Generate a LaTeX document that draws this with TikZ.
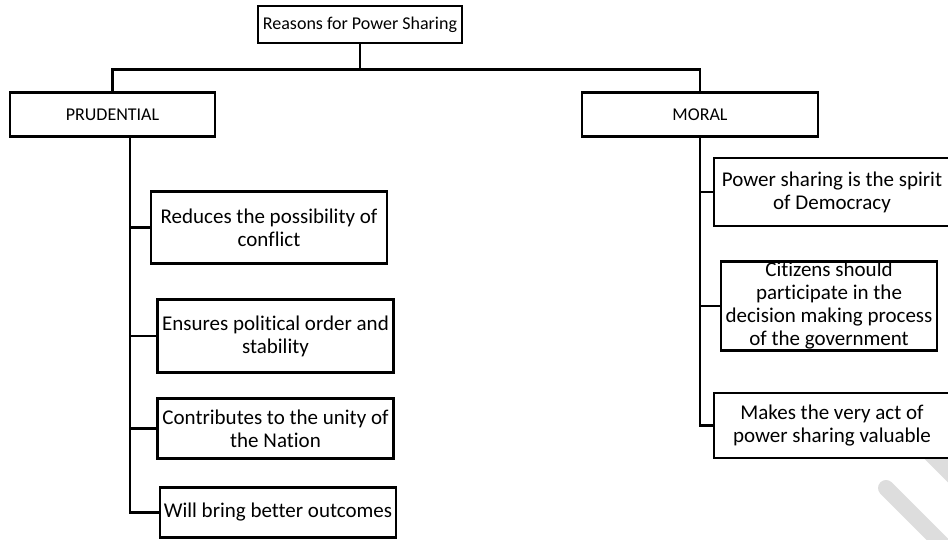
\documentclass[tikz,border=0pt]{standalone}
\usepackage{fontspec}
\setmainfont[Ligatures=NoCommon]{Carlito}
\usepackage{tikz}
\tikzstyle{title} = [rectangle, minimum width=204pt, minimum height=37pt, inner sep=1pt, text centered, draw=black, line width=2.8pt, fill=white, font=\fontsize{18}{22}\selectfont]
\tikzstyle{side} = [rectangle, minimum height=44pt, inner sep=1pt, text centered, draw=black, line width=2.8pt, fill=white, font=\fontsize{18}{22}\selectfont]
\tikzstyle{reason} = [rectangle, minimum width=236pt, inner sep=1pt, align=center, draw=black, line width=2.8pt, fill=white, font=\fontsize{21}{23}\selectfont]
\tikzstyle{link} = [line width=2.8pt]
\tikzstyle{stamp} = [line width=16pt, line cap=round, draw=gray!27]
\begin{document}
\begin{tikzpicture}[node distance=90pt, x=1pt, y=1pt]

\useasboundingbox (0,0) rectangle (948,-540);

\draw [stamp] (915,-438) -- (990,-513);
\draw [stamp] (886,-488) -- (960,-562);

\node (top) [title] at (360,-24.5) {Reasons for Power Sharing};
\node (pru) [side, minimum width=205pt, below of=top, xshift=-247.5pt] {PRUDENTIAL};
\node (mor) [side, minimum width=236pt, below of=top, xshift=340pt] {MORAL};

\node (p1) [reason, minimum height=72pt, below of=pru, xshift=156.5pt, yshift=-23pt] {Reduces the possibility of\\conflict};
\node (p2) [reason, minimum height=73pt, below of=p1, xshift=6.5pt, yshift=-18.5pt] {Ensures political order and\\stability};
\node (p3) [reason, minimum height=60pt, below of=p2, yshift=-2.5pt] {Contributes to the unity of\\the Nation};
\node (p4) [reason, minimum height=50pt, below of=p3, xshift=2.5pt, yshift=6pt] {Will bring better outcomes};

\node (m1) [reason, minimum height=68pt, below of=mor, xshift=132pt, yshift=12.5pt] {Power sharing is the spirit\\of Democracy};
\node (m2) [reason, minimum width=216pt, minimum height=88pt, below of=m1, xshift=-3pt, yshift=-24pt] {Citizens should\\participate in the\\decision making process\\of the government};
\node (m3) [reason, minimum height=65pt, below of=m2, xshift=3pt, yshift=-29.5pt] {Makes the very act of\\power sharing valuable};

\draw [link] (top.south) -- ++(0,-25) -| (pru.north);
\draw [link] (top.south) -- ++(0,-25) -| (mor.north);
\draw [link] ([xshift=17.5pt]pru.south) |- (p1.west);
\draw [link] ([xshift=17.5pt]pru.south) |- (p2.west);
\draw [link] ([xshift=17.5pt]pru.south) |- (p3.west);
\draw [link] ([xshift=17.5pt]pru.south) |- (p4.west);
\draw [link] (mor.south) |- (m1.west);
\draw [link] (mor.south) |- (m2.west);
\draw [link] (mor.south) |- (m3.west);

\end{tikzpicture}
\end{document}
